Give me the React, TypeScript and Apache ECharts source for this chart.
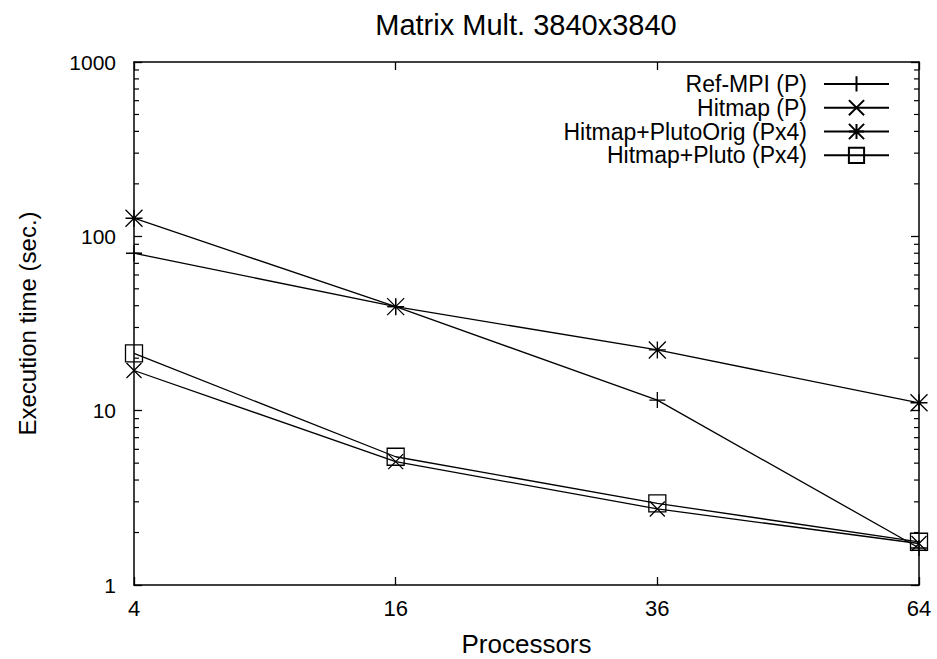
import React, { useEffect, useRef } from 'react';
import * as echarts from 'echarts';

const processors = ['4', '16', '36', '64'];
const refMpi = [80, 39.5, 11.5, 1.63];
const hitmap = [17, 5.1, 2.73, 1.73];
const hitmapPlutoOrig = [127, 39.5, 22.3, 11.1];
const hitmapPluto = [21.3, 5.44, 2.94, 1.77];
const seriesNames = ['Ref-MPI (P)', 'Hitmap (P)', 'Hitmap+PlutoOrig (Px4)', 'Hitmap+Pluto (Px4)'];
const yMinorTicks = [2, 3, 4, 5, 6, 7, 8, 9, 20, 30, 40, 50, 60, 70, 80, 90, 200, 300, 400, 500, 600, 700, 800, 900];
const titleText = 'Matrix Mult. 3840x3840';

const FONT = '"Liberation Sans", Arial, Helvetica, sans-serif';
const PLUS = 'path://M0,5L10,5M5,0L5,10';
const CROSS = 'path://M0,0L10,10M0,10L10,0';
const STAR = 'path://M0,5L10,5M5,0L5,10M0,0L10,10M0,10L10,0';

const axisLineStyle = { show: true, onZero: false, lineStyle: { color: '#000', width: 1.5 } };
const tickStyle = { show: true, inside: true, length: 8, lineStyle: { color: '#000', width: 1.3 } };

function mkSeries(name: string, data: number[], symbol: string, size: number) {
  return {
    name,
    type: 'line',
    data,
    symbol,
    symbolSize: size,
    showSymbol: true,
    xAxisIndex: 0,
    yAxisIndex: 0,
    lineStyle: { color: '#000', width: 1.3 },
    itemStyle: { color: 'rgba(0,0,0,0)', borderColor: '#000', borderWidth: 1.3 },
    emphasis: { disabled: true },
    z: 3,
  };
}

function minorTickSeries(catIndex: number, offset: number) {
  return {
    type: 'scatter',
    name: 'minorTicks' + catIndex,
    silent: true,
    clip: false,
    xAxisIndex: 0,
    yAxisIndex: 0,
    symbol: 'rect',
    symbolSize: [5, 1.2],
    symbolOffset: [offset, 0],
    itemStyle: { color: '#000', opacity: 1 },
    emphasis: { disabled: true },
    data: yMinorTicks.map((v) => [catIndex, v]),
    z: 4,
  };
}

export default function App() {
  const ref = useRef<HTMLDivElement>(null);
  useEffect(() => {
    if (!ref.current) return;
    const chart = echarts.init(ref.current, null, { renderer: 'svg' });
    const option: any = {
      animation: false,
      backgroundColor: '#fff',
      textStyle: { fontFamily: FONT },
      graphic: [
        {
          type: 'text',
          x: 526,
          y: 25,
          style: {
            text: titleText,
            fill: '#000',
            font: `29px ${FONT}`,
            textAlign: 'center',
            textVerticalAlign: 'middle',
          },
        },
      ],
      grid: { left: 134, right: 18, top: 62, bottom: 74, containLabel: false, outerBoundsMode: 'none' },
      legend: {
        orient: 'vertical',
        align: 'right',
        right: 47,
        top: 72,
        padding: 0,
        itemWidth: 65,
        itemHeight: 19,
        itemGap: 0,
        selectedMode: false,
        data: seriesNames,
        textStyle: { color: '#000', fontSize: 23, fontFamily: FONT, lineHeight: 23.8, padding: [0, 12, 0, 0] },
      },
      xAxis: [
        {
          type: 'category',
          data: processors,
          boundaryGap: false,
          position: 'bottom',
          axisLine: axisLineStyle,
          axisTick: tickStyle,
          axisLabel: { color: '#000', fontSize: 22, fontFamily: FONT, margin: 12 },
          splitLine: { show: false },
          name: 'Processors',
          nameLocation: 'middle',
          nameGap: 46,
          nameTextStyle: { color: '#000', fontSize: 26, fontFamily: FONT },
        },
        {
          type: 'category',
          data: processors,
          boundaryGap: false,
          position: 'top',
          axisLine: axisLineStyle,
          axisTick: tickStyle,
          axisLabel: { show: false },
          splitLine: { show: false },
        },
      ],
      yAxis: [
        {
          type: 'log',
          logBase: 10,
          min: 1,
          max: 1000,
          position: 'left',
          axisLine: axisLineStyle,
          axisTick: tickStyle,
          axisLabel: {
            color: '#000',
            fontSize: 21,
            fontFamily: FONT,
            margin: 18,
            formatter: (v: number) => String(Math.round(v)),
          },
          splitLine: { show: false },
          name: 'Execution time (sec.)',
          nameLocation: 'middle',
          nameGap: 95,
          nameRotate: 90,
          nameTextStyle: { color: '#000', fontSize: 24, fontFamily: FONT },
        },
        {
          type: 'log',
          logBase: 10,
          min: 1,
          max: 1000,
          position: 'right',
          axisLine: axisLineStyle,
          axisTick: tickStyle,
          axisLabel: { show: false },
          splitLine: { show: false },
        },
      ],
      series: [
        mkSeries(seriesNames[0], refMpi, PLUS, 16),
        mkSeries(seriesNames[1], hitmap, CROSS, 15),
        mkSeries(seriesNames[2], hitmapPlutoOrig, STAR, 17),
        mkSeries(seriesNames[3], hitmapPluto, 'rect', 17),
        minorTickSeries(0, 2.5),
        minorTickSeries(processors.length - 1, -2.5),
      ],
    };
    chart.setOption(option);
    return () => chart.dispose();
  }, []);
  return (
    <div
      ref={ref}
      style={{ position: 'fixed', left: 0, top: 0, width: 937, height: 659, background: '#fff' }}
    />
  );
}
